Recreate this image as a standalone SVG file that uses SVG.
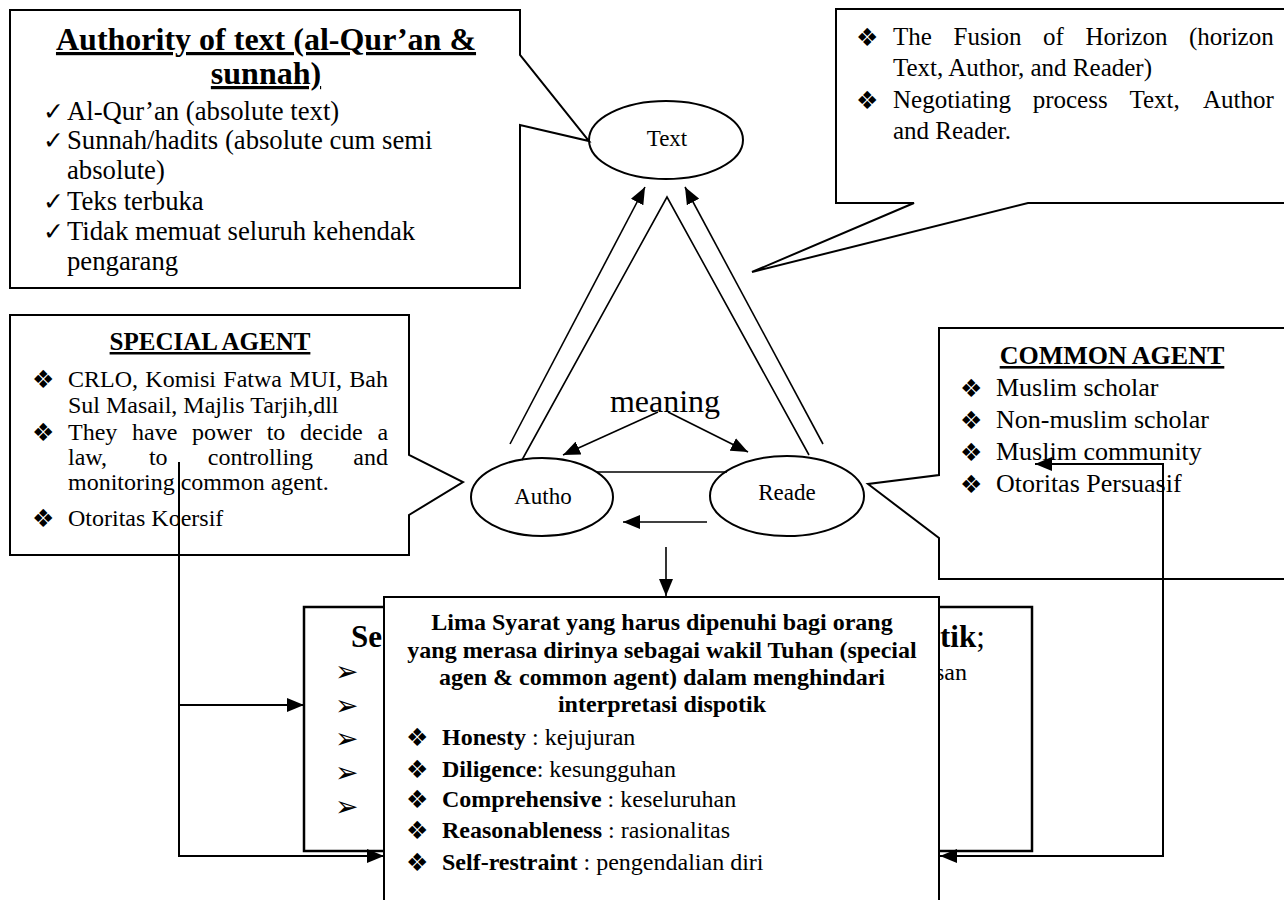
<svg xmlns="http://www.w3.org/2000/svg" width="1284" height="900" viewBox="0 0 1284 900">
<style>
.box{fill:#fff;stroke:#000;stroke-width:2}
.ln{fill:none;stroke:#000;stroke-width:2}
.tl{fill:none;stroke:#000;stroke-width:1.6}
.t{font-family:"Liberation Serif","Times New Roman",serif;fill:#000}
.b{font-weight:bold}
.sym{font-family:"DejaVu Sans",sans-serif;fill:#000}
.u{text-decoration:underline}
</style>
<defs>
<marker id="ah" markerUnits="userSpaceOnUse" markerWidth="18" markerHeight="14" refX="17" refY="7" orient="auto">
<path d="M0,0 L17,7 L0,14 Z" fill="#000"/>
</marker>
</defs>
<rect width="1284" height="900" fill="#fff"/>

<g id="authority">
<path class="box" d="M10,10 H520 V55 L589,141 L520,125 V288 H10 Z"/>
<text class="t b u" x="266" y="50" text-anchor="middle" font-size="32">Authority of text (al-Qur’an &amp;</text>
<text class="t b u" x="266" y="84" text-anchor="middle" font-size="32">sunnah)</text>
<g font-size="25" class="sym"><text x="43" y="120">✓</text><text x="43" y="149">✓</text><text x="43" y="210">✓</text><text x="43" y="240">✓</text></g>
<g class="t" font-size="26.7">
<text x="67" y="120">Al-Qur’an (absolute text)</text>
<text x="67" y="149">Sunnah/hadits (absolute cum semi</text>
<text x="67" y="179">absolute)</text>
<text x="67" y="210">Teks terbuka</text>
<text x="67" y="240">Tidak memuat seluruh kehendak</text>
<text x="67" y="270">pengarang</text>
</g>
</g>

<g id="fusion">
<path class="box" d="M836,9 H1292 V203 H1028 L752,272 L914,203 H836 Z"/>
<g class="sym" font-size="25"><text x="856" y="46">❖</text><text x="856" y="109">❖</text></g>
<g class="t" font-size="25">
<text y="45"><tspan x="893">The</tspan><tspan x="953.5">Fusion</tspan><tspan x="1043">of</tspan><tspan x="1085.5">Horizon</tspan><tspan x="1189">(horizon</tspan></text>
<text x="893" y="76">Text, Author, and Reader)</text>
<text y="108"><tspan x="893">Negotiating</tspan><tspan x="1032.7">process</tspan><tspan x="1129.4">Text,</tspan><tspan x="1203">Author</tspan></text>
<text x="893" y="139">and Reader.</text>
</g>
</g>

<g id="special-agent">
<path class="box" d="M10,315 H409 V455 L463,482 L409,515 V555 H10 Z"/>
<text class="t b u" x="210" y="350" text-anchor="middle" font-size="25">SPECIAL AGENT</text>
<g class="sym" font-size="25"><text x="32" y="388">❖</text><text x="32" y="441">❖</text><text x="32" y="527">❖</text></g>
<g class="t" font-size="24">
<text y="387"><tspan x="68">CRLO,</tspan><tspan x="145.3">Komisi</tspan><tspan x="223.3">Fatwa</tspan><tspan x="289.3">MUI,</tspan><tspan x="349.3">Bah</tspan></text>
<text x="68" y="413">Sul Masail, Majlis Tarjih,dll</text>
<text y="440"><tspan x="68">They</tspan><tspan x="132">have</tspan><tspan x="192">power</tspan><tspan x="266.7">to</tspan><tspan x="300.1">decide</tspan><tspan x="377.4">a</tspan></text>
<text y="465"><tspan x="68">law,</tspan><tspan x="148.9">to</tspan><tspan x="207.8">controlling</tspan><tspan x="353.3">and</tspan></text>
<text x="68" y="490">monitoring common agent.</text>
<text x="68" y="526">Otoritas Koersif</text>
</g>
</g>

<g id="common-agent">
<path class="box" d="M939,328 H1292 V579 H939 V538 L868,484 L939,475 Z"/>
<text class="t b u" x="1112" y="364" text-anchor="middle" font-size="26">COMMON AGENT</text>
<g class="sym" font-size="25"><text x="960" y="397">❖</text><text x="960" y="429">❖</text><text x="960" y="461">❖</text><text x="960" y="493">❖</text></g>
<g class="t" font-size="26">
<text x="996" y="396">Muslim scholar</text>
<text x="996" y="428">Non-muslim scholar</text>
<text x="996" y="460">Muslim community</text>
<text x="996" y="492">Otoritas Persuasif</text>
</g>
</g>

<g id="text-node">
<ellipse class="ln" cx="666" cy="140" rx="77" ry="39"/>
<text class="t" x="667" y="146" text-anchor="middle" font-size="23">Text</text>
</g>
<g id="author-node">
<ellipse class="ln" cx="542" cy="497" rx="71" ry="39"/>
<text class="t" x="543" y="504" text-anchor="middle" font-size="23">Autho</text>
</g>
<g id="reader-node">
<ellipse class="ln" cx="787" cy="496" rx="77" ry="40"/>
<text class="t" x="787" y="500" text-anchor="middle" font-size="23">Reade</text>
</g>
<g id="meaning">
<text class="t" x="665" y="412" text-anchor="middle" font-size="32">meaning</text>
</g>

<g id="seven-box">
<rect x="304" y="607" width="728" height="244" fill="#fff" stroke="#000" stroke-width="2.5"/>
<text class="t b" x="351" y="647" font-size="31">Se</text>
<text class="t" x="940" y="647" font-size="31"><tspan font-weight="bold">tik</tspan>;</text>
<text class="t" x="935" y="680" font-size="24">san</text>
<g class="sym" font-size="28"><text x="335" y="681">➢</text><text x="335" y="715">➢</text><text x="335" y="748">➢</text><text x="335" y="782">➢</text><text x="335" y="816">➢</text></g>
</g>

<g id="lima-box">
<rect class="box" x="384" y="597" width="555" height="310"/>
<g class="t b" font-size="24" text-anchor="middle">
<text x="662" y="630">Lima Syarat yang harus dipenuhi bagi orang</text>
<text x="662" y="658">yang merasa dirinya sebagai wakil Tuhan (special</text>
<text x="662" y="685">agen &amp; common agent) dalam menghindari</text>
<text x="662" y="712">interpretasi dispotik</text>
</g>
<g class="sym" font-size="25"><text x="406" y="746">❖</text><text x="406" y="778">❖</text><text x="406" y="808">❖</text><text x="406" y="839">❖</text><text x="406" y="871">❖</text></g>
<g class="t" font-size="24">
<text x="442" y="745"><tspan font-weight="bold">Honesty</tspan> : kejujuran</text>
<text x="442" y="777"><tspan font-weight="bold">Diligence</tspan>: kesungguhan</text>
<text x="442" y="807"><tspan font-weight="bold">Comprehensive</tspan> : keseluruhan</text>
<text x="442" y="838"><tspan font-weight="bold">Reasonableness</tspan> : rasionalitas</text>
<text x="442" y="870"><tspan font-weight="bold">Self-restraint</tspan> : pengendalian diri</text>
</g>
</g>

<g id="connectors">
<line class="tl" x1="510" y1="444" x2="645" y2="187" marker-end="url(#ah)"/>
<line class="tl" x1="823" y1="444" x2="685" y2="187" marker-end="url(#ah)"/>
<polyline class="tl" points="522,460 667,197 809,455"/>
<line class="tl" x1="658" y1="412" x2="563" y2="455" marker-end="url(#ah)"/>
<line class="tl" x1="668" y1="412" x2="748" y2="452" marker-end="url(#ah)"/>
<line class="tl" x1="597" y1="472" x2="727" y2="472"/>
<line class="tl" x1="707" y1="522" x2="623" y2="522" marker-end="url(#ah)"/>
<line class="tl" x1="666" y1="547" x2="666" y2="596" marker-end="url(#ah)"/>
<polyline class="ln" points="179,462 179,856 384,856" marker-end="url(#ah)"/>
<line class="ln" x1="179" y1="705" x2="304" y2="705" marker-end="url(#ah)"/>
<polyline class="ln" points="940,856 1163,856 1163,464 1035,464" marker-end="url(#ah)"/>
<line class="ln" x1="1163" y1="856" x2="940" y2="856" marker-end="url(#ah)"/>
</g>
</svg>
